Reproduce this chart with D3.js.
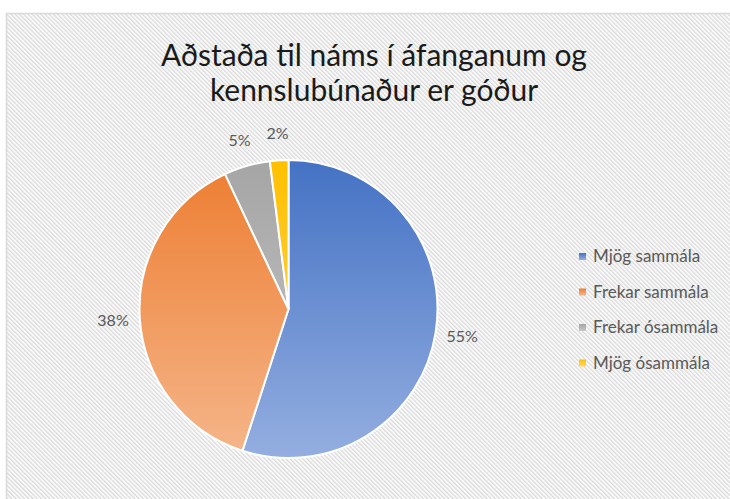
<!DOCTYPE html>
<html>
<head>
<meta charset="utf-8">
<script src="https://cdn.jsdelivr.net/npm/d3@7"></script>
<style>
  body { margin: 0; background: #fff; }
  svg { display: block; font-family: Lato, "Open Sans", sans-serif; }
</style>
</head>
<body>
<script>
// survey answers, share of respondents
const categories = ['Mjög sammála', 'Frekar sammála', 'Frekar ósammála', 'Mjög ósammála'];
const values = [55, 38, 5, 2];
const labels = ['55%', '38%', '5%', '2%'];
const titleLines = ['Aðstaða til náms í áfanganum og', 'kennslubúnaður er góður'];

// colours: dark at the top of the pie, light at the bottom
const darkColors = ['#4472c4', '#ed7d31', '#a5a5a5', '#ffc000'];
const lightColors = ['#94aee0', '#f5b68a', '#c8c8c8', '#ffd966'];

const width = 730;
const height = 499;
const cx = 288.5;
const cy = 309;
const radius = 149;

const svg = d3.select('body').append('svg')
  .attr('width', width)
  .attr('height', height);

const defs = svg.append('defs');

// diagonal hatch of the chart area
const hatch = defs.append('pattern')
  .attr('id', 'hatch')
  .attr('patternUnits', 'userSpaceOnUse')
  .attr('width', 3)
  .attr('height', 3)
  .attr('patternTransform', 'rotate(-45)');
hatch.append('rect').attr('width', 3).attr('height', 3).attr('fill', '#fff');
hatch.append('line')
  .attr('x1', 0.7).attr('y1', 0).attr('x2', 0.7).attr('y2', 3)
  .attr('stroke', '#d9d9d9')
  .attr('stroke-width', 1.4);

// one vertical gradient per slice, spanning the whole pie (page coords)
categories.forEach((c, i) => {
  const g = defs.append('linearGradient')
    .attr('id', `grad${i}`)
    .attr('gradientUnits', 'userSpaceOnUse')
    .attr('x1', 0).attr('y1', cy - radius)
    .attr('x2', 0).attr('y2', cy + radius);
  g.append('stop').attr('offset', '0%').attr('stop-color', darkColors[i]);
  g.append('stop').attr('offset', '100%').attr('stop-color', lightColors[i]);

  const lg = defs.append('linearGradient')
    .attr('id', `lg${i}`)
    .attr('x1', 0).attr('y1', 0).attr('x2', 0).attr('y2', 1);
  lg.append('stop').attr('offset', '0%').attr('stop-color', darkColors[i]);
  lg.append('stop').attr('offset', '100%').attr('stop-color', lightColors[i]);
});

// chart area
svg.append('rect')
  .attr('x', 6.5).attr('y', 13.5)
  .attr('width', 740).attr('height', 500)
  .attr('fill', 'url(#hatch)')
  .attr('stroke', '#d9d9d9')
  .attr('stroke-width', 1.5);

// title
svg.append('text')
  .attr('x', 374)
  .attr('y', 66)
  .attr('text-anchor', 'middle')
  .attr('font-size', 30)
  .attr('fill', '#1a1a1a')
  .selectAll('tspan')
  .data(titleLines)
  .join('tspan')
  .attr('x', 374)
  .attr('dy', (d, i) => (i === 0 ? 0 : 35))
  .text((d) => d);

// pie, drawn in page space so the gradients line up
const pie = d3.pie().sort(null).value((d) => d);
const arcs = pie(values);
const arc = d3.arc().innerRadius(0).outerRadius(radius);
const labelArc = d3.arc().innerRadius(radius * 1.18).outerRadius(radius * 1.18);

svg.append('g')
  .selectAll('path')
  .data(arcs)
  .join('path')
  .attr('d', (d) => {
    const p = d3.path();
    const a0 = d.startAngle - Math.PI / 2;
    const a1 = d.endAngle - Math.PI / 2;
    p.moveTo(cx, cy);
    p.arc(cx, cy, radius, a0, a1);
    p.closePath();
    return p.toString();
  })
  .attr('fill', (d, i) => `url(#grad${i})`)
  .attr('stroke', '#fff')
  .attr('stroke-width', 2)
  .attr('stroke-linejoin', 'round');

svg.append('g')
  .attr('transform', `translate(${cx},${cy})`)
  .selectAll('text')
  .data(arcs)
  .join('text')
  .attr('transform', (d) => `translate(${labelArc.centroid(d)})`)
  .attr('text-anchor', 'middle')
  .attr('dy', '0.35em')
  .attr('font-size', 16)
  .attr('fill', '#595959')
  .text((d, i) => labels[i]);

// legend
const item = svg.append('g')
  .attr('transform', 'translate(579,253)')
  .selectAll('g')
  .data(categories)
  .join('g')
  .attr('transform', (d, i) => `translate(0,${i * 35.5})`);
item.append('rect')
  .attr('width', 7).attr('height', 7)
  .attr('fill', (d, i) => `url(#lg${i})`);
item.append('text')
  .attr('x', 14)
  .attr('y', 3.5)
  .attr('dy', '0.35em')
  .attr('font-size', 17)
  .attr('fill', '#595959')
  .text((d) => d);
</script>
</body>
</html>
